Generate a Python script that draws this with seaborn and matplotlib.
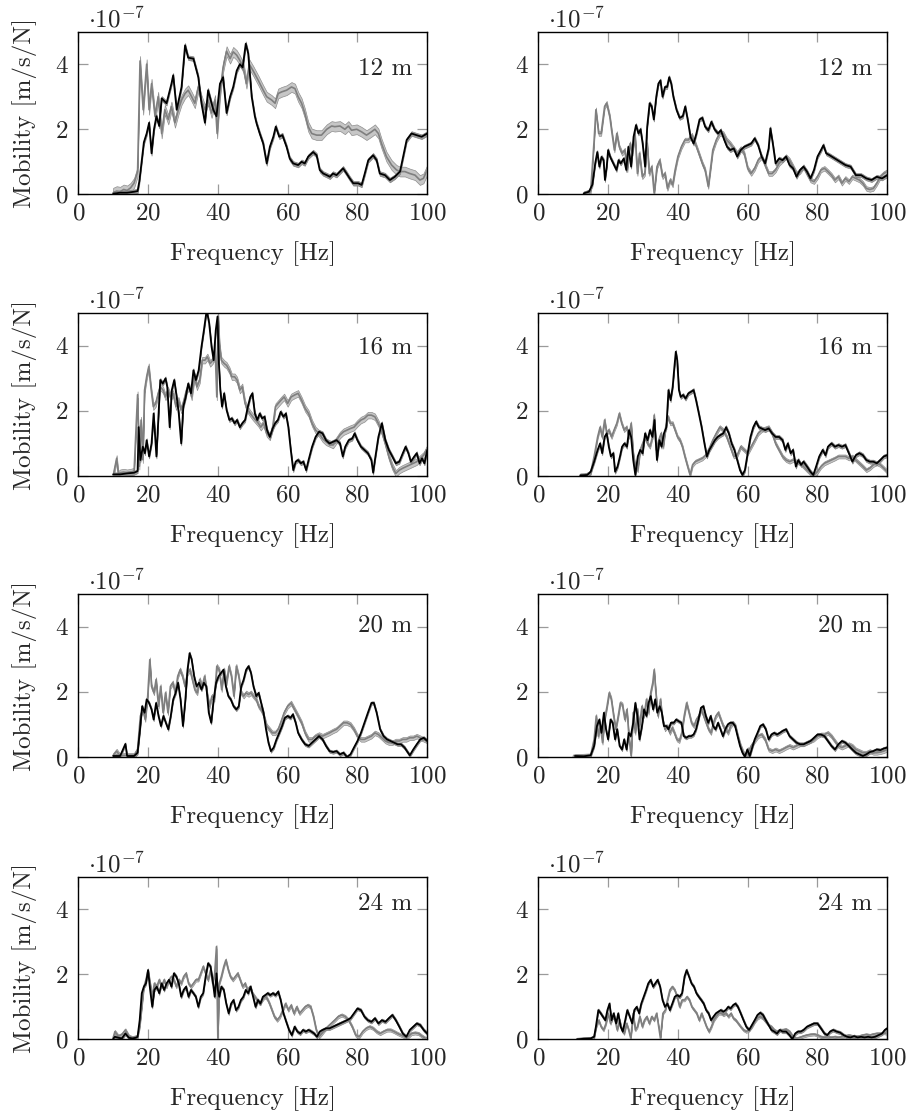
import matplotlib
matplotlib.use("Agg")
import matplotlib.pyplot as plt
import numpy as np
import pandas as pd
import seaborn as sns

# ---------------------------------------------------------------------------
# Measured mobility spectra (x: frequency in Hz, y: mobility in 1e-7 m/s/N)
# "a" = left column, "b" = right column; black = reference, gray = comparison
# ---------------------------------------------------------------------------
black_12a = [(10,0.02),(12,0.05),(14,0.05),(16,0.08),(17,0.1),(17.5,0.4),(18.1,0.95),(18.8,1.6),(19.6,1.87),
             (20.3,2.2),(21,1.26),(21.7,2.0),(22.4,2.4),(23.2,2.1),(23.9,2.95),(25.3,2.8),(26.7,3.4),(27.2,3.66),(28.2,2.6),
             (29.6,3.3),(30.6,4.58),(31.5,4.2),(33,4.17),(34.4,3.6),(35.3,2.8),(36.3,2.2),(37.2,3.2),(38.7,2.6),(39.6,2.4),
             (40.6,3.4),(41.5,3.6),(42.5,2.5),(43.5,3.0),(44.4,3.3),(45.4,3.8),(46.3,4.0),(47.1,3.9),(48,4.63),(48.7,4.33),
             (49.7,3.0),(50.6,2.4),(51.1,2.18),(52,1.87),(53,1.56),(54,0.95),(54.9,1.46),(55.9,1.77),(56.6,2.08),(57.6,1.77),
             (58.5,1.82),(59.7,1.46),(60.6,1.1),(61.6,0.95),(63,0.9),(64,1.0),(64.9,0.95),(65.9,1.16),(67.3,1.3),(68.3,1.2),
             (69.2,0.75),(70.2,0.64),(71.2,0.59),(72.1,0.54),(73,0.64),(74,0.59),(75,0.7),(75.9,0.8),(76.9,0.64),(77.8,0.49),
             (78.8,0.34),(80.2,0.34),(81.2,0.29),(82.1,0.64),(83.1,1.05),(84.5,1.2),(85.5,1.05),(86.4,0.64),(87.9,0.59),(89.3,0.44),
             (90.7,0.54),(92.2,0.7),(93.1,1.16),(94.1,1.67),(95.5,1.87),(96.9,1.82),(98.4,1.77),(100,1.87)]
gray_12a = [(10,0.05),(11,0.1),(12,0.08),(13,0.15),(14,0.12),(15,0.2),(16,0.35),(17,0.7),(17.7,4.1),
            (18.6,2.6),(19.6,4.0),(20.3,2.6),(21,3.4),(22,2.4),(22.9,3.0),(23.9,1.87),(24.8,2.6),(25.8,2.3),(26.7,2.7),
            (27.7,2.2),(28.7,2.6),(29.6,2.9),(30.6,3.1),(31.5,3.2),(32.5,3.0),(33.4,2.8),(34.4,3.3),(35.3,2.9),(36.3,2.6),
            (37.2,2.9),(38.2,2.5),(39.2,2.9),(39.8,1.87),(40.6,3.1),(41.5,3.9),(42.5,4.4),(43.5,4.17),(44.4,4.38),(45.4,4.28),
            (46.3,4.12),(47.3,3.9),(48.2,3.4),(49,4.0),(50.1,3.8),(51.6,3.5),(53,3.2),(54,3.0),(55.4,2.9),(56.4,2.8),
            (57.3,3.1),(58.3,3.15),(59.7,3.2),(61.1,3.3),(62.1,3.25),(63,3.0),(64,2.8),(64.9,2.5),(65.9,2.08),(66.9,1.87),
            (68.3,1.82),(69.7,1.82),(71.2,2.0),(72.6,2.1),(73.5,2.08),(75,2.1),(76.4,2.0),(77.4,2.1),(78.3,1.97),(79.8,2.0),
            (81.2,1.92),(82.6,1.82),(84,1.92),(85,2.0),(86,1.87),(86.9,1.56),(88.3,1.16),(89.8,0.9),(91.2,0.75),(92.2,0.7),
            (93.6,0.7),(95,0.64),(96.5,0.59),(97.9,0.44),(98.9,0.49),(100,0.75)]

black_12b = [(13,0.03),(14.5,0.08),(15.5,0.3),(16.3,0.95),(16.9,1.3),(17.5,0.85),(18.1,1.15),(18.7,1.05),(19.1,0.44),
             (19.6,0.85),(20,1.36),(20.6,1.15),(21.5,0.95),(22.4,0.75),(23,1.05),(23.6,0.95),(24.5,1.1),(25.2,0.75),(25.8,1.46),
             (26.6,0.85),(27.3,1.77),(28,2.13),(28.7,1.87),(29.3,2.0),(29.9,1.56),(30.6,0.85),(31.2,2.08),(31.9,2.8),(32.5,2.7),
             (33.1,2.3),(33.8,3.0),(34.4,3.4),(35,3.5),(35.6,3.0),(36.3,3.3),(36.9,3.3),(37.5,3.6),(38.1,3.4),(38.7,3.0),
             (39.6,2.6),(40.5,2.35),(41.4,2.4),(42.1,2.7),(42.8,2.3),(43.6,1.77),(44.5,1.56),(45.3,1.87),(46.2,2.3),(47,2.35),
             (47.8,2.08),(48.7,1.97),(49.6,2.23),(50.5,2.0),(51.5,1.87),(52.3,1.97),(53.3,1.67),(54.1,1.46),(55,1.36),(56,1.41),
             (57,1.16),(58,1.36),(59,1.46),(60,1.51),(61,1.56),(62,1.72),(63,1.51),(64,1.16),(65,0.95),(66,1.41),
             (66.5,2.03),(67.2,1.56),(68,0.95),(69,1.1),(70,1.05),(71,1.16),(72,0.9),(73,0.8),(74,0.54),(75,0.75),
             (76,0.85),(77,0.7),(78,0.49),(79,0.75),(80,1.16),(81,1.36),(81.7,1.51),(82.5,1.26),(83.5,1.2),(85,1.1),
             (86.5,1.0),(88,0.9),(89.5,0.85),(91,0.59),(92.5,0.59),(94,0.49),(95.5,0.44),(97,0.54),(98.5,0.49),(100,0.59)]
gray_12b = [(13,0),(15,0.1),(16,1.67),(16.5,2.6),(17.3,1.87),(18,1.87),(19,2.7),(19.6,2.8),(20.5,2.38),
            (21,1.97),(21.8,1.36),(22.5,1.87),(23.2,1.46),(24,1.26),(24.8,1.36),(25.5,0.75),(26.3,1.56),(27,1.26),(27.7,1.87),
            (28.4,0.64),(29,1.26),(29.8,0.54),(30.5,0.64),(31.2,1.56),(31.8,0.64),(32.5,0.85),(33.2,0.03),(34,0.85),(34.8,1.05),
            (35.6,0.54),(36.3,0.64),(37,0.18),(37.8,0.44),(38.5,0.29),(39.2,0.75),(40,1.16),(41,1.46),(42,1.67),(43,1.67),
            (44,1.82),(45,1.56),(46,1.26),(47,0.95),(47.8,0.75),(48.7,0.24),(49.3,0.75),(50,1.36),(51,1.67),(52,1.87),
            (53,1.87),(54,1.67),(55,1.56),(56,1.41),(57,1.26),(58,1.41),(59,1.26),(60,0.8),(61,0.64),(62,0.8),
            (63,1.05),(64,1.16),(65,0.9),(66,0.64),(67,0.64),(68,0.75),(69,0.95),(70,1.05),(71,1.16),(72,1.05),
            (73,0.85),(74,0.64),(75,0.7),(76,0.85),(77,0.64),(78,0.44),(79,0.39),(80,0.54),(81,0.75),(82,0.8),
            (83,0.7),(84,0.59),(85,0.44),(86,0.54),(87,0.34),(88,0.49),(89,0.39),(90,0.54),(91,0.49),(92,0.44),
            (93,0.34),(94,0.18),(95,0.15),(96,0.18),(97,0.34),(98,0.54),(99,0.64),(100,0.7)]

black_16a = [(10,0.05),(12,0.05),(14,0.08),(16,0.1),(17,0.15),(17.3,1.5),(17.8,0.49),(18.5,0.9),(19.1,0.7),
             (19.6,1.1),(20.3,0.6),(21,1.0),(21.6,1.92),(22.4,0.6),(23.5,2.95),(24.2,2.84),(25,3.0),(25.5,2.74),(26.2,1.5),
             (26.8,2.64),(27.5,2.95),(28.2,2.43),(28.8,1.92),(29.5,1.0),(30.1,2.13),(30.8,2.43),(31.5,2.84),(32.3,2.54),(33,3.25),
             (33.7,2.95),(34.5,3.25),(35.3,3.97),(36,4.48),(36.8,5.1),(37.5,4.7),(38.2,3.97),(38.8,3.56),(39.4,4.48),(39.9,4.9),
             (40.3,3.46),(40.7,2.64),(41.2,2.13),(41.8,2.54),(42.5,2.03),(43.3,1.72),(44,1.77),(44.8,1.62),(45.5,1.72),(46.3,1.5),
             (47,1.62),(47.8,1.72),(48.6,2.13),(49.3,2.43),(49.9,2.54),(50.6,1.92),(51.3,1.72),(52,1.92),(52.7,1.77),(53.4,1.82),
             (54.1,1.41),(54.9,1.2),(55.7,1.46),(56.4,1.62),(57.2,1.72),(58,1.97),(58.8,1.82),(59.5,1.92),(60.2,1.5),(60.9,0.8),
             (61.6,0.18),(62.3,0.44),(63,0.49),(63.8,0.39),(64.5,0.44),(65.3,0.18),(66,0.49),(67,0.9),(68,1.2),(69,1.36),
             (70,1.31),(71,1.1),(72,1.0),(73,1.05),(74,1.1),(75,1.0),(75.8,0.6),(76.5,0.9),(77.5,1.1),(78.5,1.15),
             (79.2,1.31),(80,1.1),(81,0.9),(82,0.8),(83,0.7),(84,0.49),(84.5,0.1),(85,0.49),(86,1.2),(87,1.62),
             (88,1.1),(89,0.8),(90,0.6),(91,0.39),(92,0.44),(93,0.7),(93.8,0.9),(94.6,0.7),(95.3,0.44),(96.3,0.6),
             (97,0.7),(97.8,0.39),(98.5,0.54),(99.2,0.39),(100,0.8)]
gray_16a = [(10,0),(11,0.54),(11.5,0.05),(12,0.1),(13,0.12),(14,0.1),(15,0.12),(16,0.15),(17,2.5),
            (17.5,0.3),(18,1.72),(18.5,0.5),(19,2.64),(19.6,3.05),(20.2,3.36),(20.8,2.74),(21.5,2.13),(22.2,2.23),(22.9,2.54),
            (23.5,2.74),(24.3,2.64),(25,2.43),(25.7,2.64),(26.5,2.43),(27.2,2.54),(28,2.13),(28.7,2.33),(29.5,2.03),(30.3,2.33),
            (31,2.64),(31.8,2.74),(32.5,2.43),(33.3,3.05),(34,2.74),(34.8,2.95),(35.5,3.56),(36.3,3.56),(37,3.66),(37.8,3.46),
            (38.6,3.56),(39.2,3.97),(39.7,2.43),(40.1,4.9),(40.5,3.97),(41,3.56),(41.8,3.46),(42.5,3.4),(43.3,3.25),(44,3.05),
            (44.8,3.05),(45.5,2.95),(46.3,2.64),(47,2.74),(47.8,2.23),(48.6,2.03),(49.3,1.92),(50,1.82),(50.8,1.72),(51.6,1.62),
            (52.3,1.5),(53.1,1.62),(54,1.31),(54.9,1.2),(55.7,1.5),(56.5,2.13),(57.3,2.23),(58.1,2.33),(59,2.43),(60,2.23),
            (61,2.43),(62,2.49),(63,2.54),(64,2.33),(65,2.08),(66,1.92),(67,1.62),(68,1.41),(69,1.31),(70,1.15),
            (71,1.05),(72,1.0),(73,0.95),(74,1.1),(75,1.26),(76,1.36),(77,1.41),(78,1.46),(79,1.5),(80,1.62),
            (81,1.72),(82,1.77),(83,1.87),(84,1.87),(85,1.82),(86,1.62),(87,1.36),(88,1.0),(89,0.6),(90,0.29),
            (91,0.08),(92,0.18),(93,0.24),(94,0.29),(95,0.34),(96,0.39),(97,0.44),(98,0.54),(99,0.64),(100,0.85)]

black_16b = [(12,0.02),(14,0.03),(15,0.13),(16,0.44),(17,0.8),(17.7,1.0),(18.3,0.7),(19,1.2),(19.6,1.31),
             (20.2,0.9),(20.8,0.6),(21.5,0.7),(22,0.13),(22.7,0.29),(23.4,0.6),(24,0.9),(24.7,1.0),(25.4,0.9),(26,1.41),
             (26.6,1.2),(27.2,0.49),(27.8,0.03),(28.5,0.6),(29.2,0.8),(29.9,0.7),(30.6,1.31),(31.3,1.1),(32,1.41),(32.7,1.2),
             (33.3,1.72),(34,0.49),(34.7,1.1),(35.3,0.9),(36,1.31),(36.7,1.5),(37.3,2.64),(37.9,2.33),(38.5,2.74),(39,3.36),
             (39.4,3.82),(39.8,3.56),(40.3,2.64),(40.8,2.43),(41.5,2.49),(42.2,2.38),(43,2.54),(43.8,2.59),(44.5,2.64),(45.2,2.33),
             (46,1.92),(46.8,1.5),(47.6,1.0),(48.3,0.6),(49,0.8),(49.8,0.95),(50.6,1.1),(51.4,1.2),(52.2,1.26),(53,1.31),
             (53.8,1.5),(54.6,1.31),(55.4,1.0),(56.2,0.8),(57,0.49),(57.8,0.18),(58.5,0.03),(59.2,0.18),(60,0.7),(60.8,1.2),
             (61.6,1.5),(62.4,1.67),(63.2,1.5),(64,1.46),(65,1.41),(66,1.46),(67,1.31),(68,1.2),(69,1.2),(70,1.1),
             (70.8,0.8),(71.5,1.0),(72.3,0.7),(73,0.8),(73.8,0.29),(74.5,0.49),(75.3,0.34),(76,0.44),(77,0.29),(78,0.13),
             (78.8,0.03),(79.6,0.29),(80.5,0.6),(81.5,0.8),(82.3,0.64),(83,0.9),(84,1.0),(85,0.9),(86,0.95),(87,0.9),
             (88,0.95),(89,0.7),(90,0.44),(91,0.64),(92,0.7),(93,0.64),(94,0.49),(95,0.44),(96,0.44),(97,0.39),
             (98,0.49),(99,0.6),(100,0.64)]
gray_16b = [(13,0),(15,0.1),(16,0.6),(17,1.2),(17.7,1.5),(18.3,1.2),(19,1.72),(19.6,1.31),(20.2,1.41),
            (21,1.2),(21.7,1.41),(22.5,1.62),(23.2,1.92),(23.9,1.62),(24.6,1.41),(25.3,1.5),(26,1.2),(26.6,1.62),(27.2,0.7),
            (27.8,0.29),(28.5,0.18),(29.2,0.8),(29.9,1.0),(30.6,1.2),(31.3,1.0),(32,0.9),(32.7,1.2),(33.2,1.87),(33.8,0.8),
            (34.5,1.1),(35.2,1.31),(35.8,0.9),(36.5,1.5),(37.2,1.82),(37.8,1.62),(38.5,1.62),(39.2,1.41),(39.9,1.2),(40.6,1.1),
            (41.3,0.9),(42,0.6),(42.8,0.29),(43.5,0.03),(44.2,0.34),(45,0.44),(46,0.49),(47,0.54),(48,0.64),(49,0.85),
            (50,1.1),(51,1.31),(52,1.5),(53,1.41),(54,1.2),(55,0.9),(56,0.6),(57,0.64),(58,0.9),(59,0.8),
            (60,0.7),(61,0.9),(62,1.1),(63,1.31),(64,1.41),(65,1.46),(66,1.5),(67,1.31),(68,1.0),(69,0.8),
            (70,0.6),(71,0.49),(72,0.44),(73,0.49),(74,0.44),(75,0.39),(76,0.29),(77,0.18),(78,0.08),(79,0.03),
            (80,0.13),(81,0.29),(82,0.39),(83,0.44),(84,0.49),(85,0.54),(86,0.6),(87,0.6),(88,0.6),(89,0.54),
            (90,0.6),(91,0.49),(92,0.39),(93,0.29),(94,0.18),(95,0.24),(96,0.34),(97,0.39),(98,0.34),(99,0.24),(100,0.13)]

black_20a = [(10,0.03),(12,0.03),(13.5,0.4),(14,0.03),(16,0.03),(17,0.13),(17.7,0.85),(18.3,1.56),(19,1.36),
             (19.6,1.77),(20.3,1.66),(21,1.46),(21.6,1.15),(22.3,1.66),(23,1.26),(23.7,0.95),(24.4,1.26),(25.1,1.05),(25.8,0.85),
             (26.5,1.26),(27.2,1.77),(27.9,1.97),(28.6,2.28),(29.3,1.77),(30,0.95),(30.7,1.77),(31.3,2.68),(31.9,3.19),(32.5,2.99),
             (33.2,2.48),(33.9,2.17),(34.6,2.28),(35.3,2.07),(36,2.28),(36.7,2.17),(37.4,1.36),(38.1,1.05),(38.8,1.77),(39.5,2.28),
             (40.2,2.48),(40.9,2.58),(41.6,2.68),(42.3,2.17),(43,1.87),(43.7,1.77),(44.5,1.56),(45.3,1.46),(46,1.56),(46.7,2.17),
             (47.4,2.38),(48.1,2.68),(48.8,2.79),(49.5,2.58),(50.2,2.17),(51,1.87),(51.7,1.97),(52.4,1.66),(53.1,1.36),(53.8,0.85),
             (54.5,0.44),(55.2,0.18),(56,0.29),(56.8,0.54),(57.6,0.74),(58.4,0.95),(59.2,1.2),(60,1.26),(60.8,1.2),(61.5,1.31),
             (62.3,1.05),(63,0.74),(64,0.54),(65,0.39),(66,0.34),(67,0.44),(68,0.54),(69,0.64),(70,0.54),(71,0.34),
             (72,0.18),(73,0.15),(74,0.18),(75,0.08),(76,0.13),(77,0.0),(78,0.08),(79,0.29),(80,0.49),(81,0.74),
             (82,1.05),(83,1.36),(84,1.66),(84.7,1.66),(85.5,1.36),(86.5,0.85),(87.5,0.64),(88.5,0.54),(89.5,0.49),(90.5,0.44),
             (91.5,0.39),(92.5,0.39),(93.5,0.29),(94.5,0.13),(95,0.05),(96,0.23),(97,0.39),(98,0.54),(99,0.59),(100,0.49)]
gray_20a = [(10,0.05),(11,0.18),(12,0.03),(13,0.05),(14,0.05),(16,0.05),(17,0.23),(17.8,1.26),(18.5,1.46),
            (19.2,1.15),(19.9,1.87),(20.5,2.99),(21,2.17),(21.7,1.97),(22.3,2.38),(23,1.56),(23.6,2.17),(24.3,1.36),(25,1.97),
            (25.7,1.36),(26.4,2.17),(27.1,2.28),(27.8,1.97),(28.5,2.48),(29.2,2.68),(29.9,2.48),(30.6,2.17),(31.3,2.58),(32,2.68),
            (32.7,2.38),(33.4,2.07),(34.1,1.97),(34.8,2.38),(35.5,2.17),(36.2,2.48),(36.9,1.97),(37.6,1.56),(38.3,1.87),(39,1.77),
            (39.7,2.79),(40.4,2.68),(41.1,2.07),(41.8,2.68),(42.5,2.28),(43.2,2.79),(43.9,2.48),(44.6,1.87),(45.3,2.79),(46,2.48),
            (46.7,1.97),(47.4,1.87),(48.1,1.97),(48.8,1.92),(49.5,1.97),(50.2,1.87),(51,1.77),(51.7,1.56),(52.4,1.46),(53.2,1.26),
            (54,0.95),(54.8,0.85),(55.6,0.74),(56.5,0.74),(57.3,0.85),(58,1.05),(59,1.36),(60,1.56),(61,1.66),(62,1.46),
            (63,1.26),(64,1.05),(65,0.74),(66,0.54),(67,0.54),(68,0.64),(69,0.69),(70,0.64),(71,0.69),(72,0.74),
            (73,0.8),(74,0.85),(75,0.95),(76,1.05),(77,1.05),(78,1.0),(79,0.85),(80,0.64),(81,0.54),(82,0.54),
            (83,0.59),(84,0.64),(85,0.74),(86,0.69),(87,0.59),(88,0.49),(89,0.44),(90,0.44),(91,0.49),(92,0.49),
            (93,0.54),(94,0.54),(95,0.59),(96,0.59),(97,0.64),(98,0.59),(99,0.54),(100,0.49)]

black_20b = [(10.5,0.03),(13,0.02),(15,0.05),(16,0.34),(16.8,0.95),(17.5,1.15),(18.1,0.74),(18.8,1.36),(19.4,0.85),
             (20,0.54),(20.7,1.15),(21.3,1.05),(22,0.54),(22.6,0.85),(23.3,0.34),(24,0.23),(24.6,0.54),(25.3,0.23),(25.9,0.74),
             (26.5,0.64),(27.2,1.05),(27.8,1.66),(28.4,1.26),(29,0.54),(29.7,0.95),(30.3,1.46),(31,1.26),(31.6,1.66),(32.2,1.87),
             (32.9,1.46),(33.5,1.77),(34.1,1.36),(34.8,1.56),(35.4,1.36),(36,0.95),(36.7,0.95),(37.3,0.85),(38,1.05),(38.8,1.05),
             (39.5,1.15),(40.2,1.1),(41,1.05),(41.7,0.64),(42.4,0.59),(43.1,0.64),(43.8,0.64),(44.5,0.69),(45.2,0.85),(45.9,1.15),
             (46.6,1.51),(47.3,1.56),(48,1.26),(48.7,1.05),(49.4,1.26),(50.1,0.95),(50.8,0.85),(51.5,1.05),(52.2,0.85),(52.9,0.64),
             (53.6,0.85),(54.3,1.0),(55,1.05),(55.7,1.05),(56.4,0.95),(57.1,0.64),(57.8,0.34),(58.5,0.13),(59.2,0.01),(59.9,0.23),
             (60.6,0.03),(61.3,0.29),(62,0.54),(62.8,0.74),(63.6,0.95),(64.4,1.0),(65.2,0.85),(66,0.54),(66.8,0.69),(67.6,0.74),
             (68.4,0.69),(69.2,0.74),(70,0.8),(71,0.85),(72,0.64),(73,0.54),(74,0.44),(75,0.39),(76,0.39),(77,0.44),
             (78,0.49),(79,0.59),(80,0.69),(81,0.69),(82,0.64),(83,0.49),(84,0.34),(85,0.23),(86,0.39),(87,0.49),
             (88,0.44),(89,0.34),(90,0.23),(91,0.13),(92,0.08),(93,0.03),(94,0.08),(95,0.15),(96,0.18),(97,0.23),
             (98,0.21),(99,0.26),(100,0.29)]
gray_20b = [(10,0.02),(15,0.05),(16,0.54),(16.6,1.26),(17.2,0.64),(17.8,0.95),(18.4,0.44),(19,1.15),(19.7,1.56),
            (20.3,1.97),(20.9,1.79),(21.6,1.26),(22.2,0.85),(22.9,1.26),(23.5,1.66),(24.1,1.61),(24.8,1.15),(25.4,1.46),(26,0.6),
            (26.6,0.03),(27.2,1.36),(27.8,0.74),(28.4,1.46),(29,0.95),(29.7,1.56),(30.3,1.26),(31,1.77),(31.6,1.36),(32.2,1.97),
            (32.8,2.28),(33.2,2.68),(33.7,1.97),(34.3,1.26),(35,1.77),(35.6,1.15),(36.3,0.85),(37,0.95),(37.7,0.74),(38.4,0.9),
            (39,0.74),(39.7,0.54),(40.4,0.49),(41.1,0.74),(41.8,1.26),(42.5,1.66),(43.2,1.36),(43.9,1.05),(44.6,0.95),(45.3,1.15),
            (46,1.26),(46.7,1.46),(47.4,1.26),(48.1,1.05),(48.8,0.85),(49.5,0.74),(50.2,1.05),(50.9,1.26),(51.6,1.36),(52.3,1.15),
            (53,0.95),(53.7,0.85),(54.4,0.74),(55.1,0.95),(55.8,1.05),(56.5,0.95),(57.2,0.64),(58,0.34),(58.8,0.13),(59.5,0.03),
            (60.3,0.18),(61,0.34),(62,0.49),(63,0.64),(64,0.69),(65,0.54),(66,0.23),(67,0.18),(68,0.23),(69,0.18),
            (70,0.23),(71,0.29),(72,0.34),(73,0.29),(74,0.34),(75,0.39),(76,0.39),(77,0.44),(78,0.49),(79,0.54),
            (80,0.64),(81,0.69),(82,0.69),(83,0.74),(84,0.64),(85,0.49),(86,0.34),(87,0.29),(88,0.34),(89,0.39),
            (90,0.34),(91,0.23),(92,0.18),(93,0.13),(94,0.13),(95,0.18),(96,0.13),(97,0.13),(98,0.15),(99,0.18),(100,0.23)]

black_24a = [(10,0.02),(10.5,0.08),(11.5,0.05),(12.5,0.03),(13.5,0.18),(14.5,0.05),(15.5,0.03),(16.5,0.05),(17,0.08),
             (17.6,0.59),(18.2,1.42),(18.8,1.62),(19.4,1.72),(20,2.13),(20.6,1.52),(21.2,1.0),(21.8,1.52),(22.5,1.62),(23.2,1.42),
             (23.9,1.72),(24.6,1.52),(25.3,1.72),(26,1.83),(26.7,1.62),(27.4,2.03),(28.1,1.93),(28.8,1.72),(29.5,1.31),(30.2,1.52),
             (30.9,1.62),(31.6,1.31),(32.3,1.52),(33,1.42),(33.7,1.31),(34.4,1.0),(35.1,1.31),(35.8,1.42),(36.5,1.93),(37.2,2.34),
             (37.9,2.24),(38.5,1.83),(39.1,1.31),(39.6,2.03),(40,1.52),(40.4,1.31),(41,1.62),(41.7,1.52),(42.4,1.1),(43.1,0.8),
             (43.8,1.1),(44.5,1.21),(45.2,0.9),(45.9,1.0),(46.6,1.21),(47.3,1.31),(48,1.52),(48.7,1.42),(49.4,1.62),(50.1,1.31),
             (50.8,1.0),(51.5,1.21),(52.2,1.1),(52.9,1.31),(53.6,1.36),(54.3,1.42),(55,1.36),(55.8,1.42),(56.5,1.36),(57.3,1.47),
             (58,1.21),(58.8,0.8),(59.6,0.54),(60.4,0.29),(61.2,0.13),(62,0.39),(62.8,0.24),(63.6,0.18),(64.4,0.29),(65.2,0.24),
             (66,0.29),(66.8,0.24),(67.6,0.18),(68.4,0.08),(69.2,0.24),(70,0.29),(71,0.34),(72,0.34),(73,0.39),(74,0.44),
             (75,0.49),(76,0.54),(77,0.59),(78,0.65),(79,0.8),(80,0.95),(81,0.9),(82,0.7),(83,0.59),(84,0.54),
             (85,0.65),(86,0.49),(87,0.59),(88,0.54),(89,0.65),(90,0.75),(91,0.59),(92,0.39),(93,0.18),(94,0.08),
             (95,0.29),(96,0.39),(97,0.49),(98,0.44),(99,0.29),(100,0.18)]
gray_24a = [(10,0.05),(10.5,0.24),(11.5,0.1),(12.5,0.15),(13.5,0.29),(14.5,0.1),(15.5,0.05),(16.5,0.08),(17,0.1),
            (17.6,0.39),(18.2,1.0),(18.8,1.62),(19.4,1.83),(20,2.13),(20.6,1.72),(21.2,1.31),(21.8,1.72),(22.5,1.62),(23.2,1.83),
            (23.9,1.62),(24.6,1.83),(25.3,1.62),(26,1.83),(26.7,1.93),(27.4,1.83),(28.1,1.62),(28.8,1.83),(29.5,1.72),(30.2,1.93),
            (30.9,2.03),(31.6,1.72),(32.3,1.62),(33,1.72),(33.7,1.83),(34.4,1.83),(35.1,2.03),(35.8,2.24),(36.5,2.03),(37.2,1.83),
            (37.9,2.13),(38.5,1.72),(39.1,2.03),(39.6,2.85),(40,0.0),(40.4,1.72),(41,1.93),(41.7,2.24),(42.3,2.44),(43,2.13),
            (43.6,1.93),(44.3,1.83),(45,1.93),(45.7,2.03),(46.4,1.83),(47.1,1.62),(47.8,1.72),(48.5,1.52),(49.2,1.62),(49.9,1.42),
            (50.6,1.31),(51.3,1.21),(52,1.1),(52.7,1.21),(53.4,1.31),(54.1,1.26),(54.8,1.1),(55.5,0.9),(56.2,0.7),(57,0.59),
            (57.8,0.7),(58.6,0.9),(59.4,1.1),(60.2,0.9),(61,1.05),(61.8,0.8),(62.6,1.0),(63.4,0.8),(64.2,0.9),(65,1.0),
            (65.8,1.05),(66.6,1.0),(67.4,0.7),(68.2,0.29),(69,0.08),(69.8,0.18),(70.6,0.29),(71.5,0.39),(72.5,0.49),(73.5,0.59),
            (74.5,0.7),(75.5,0.75),(76.5,0.7),(77.5,0.59),(78.5,0.39),(79.5,0.13),(80.5,0.08),(81.5,0.24),(82.5,0.34),(83.5,0.39),
            (84.5,0.34),(85.5,0.24),(86.5,0.18),(87.5,0.24),(88.5,0.29),(89.5,0.29),(90.5,0.24),(91.5,0.18),(92.5,0.13),(93.5,0.08),
            (94.5,0.08),(95.5,0.18),(96.5,0.2),(97.5,0.18),(98.5,0.1),(99.5,0.03),(100,0.01)]

black_24b = [(11,0),(13,0.02),(15,0.03),(16,0.08),(16.5,0.39),(17.2,0.9),(17.9,0.8),(18.5,0.7),(19.2,0.59),
             (19.8,0.9),(20.4,1.1),(21,0.59),(21.6,0.8),(22.3,0.49),(22.9,0.8),(23.6,0.39),(24.2,0.24),(24.9,0.59),(25.5,0.9),
             (26.2,0.7),(26.9,0.49),(27.5,0.9),(28.2,1.0),(28.9,0.8),(29.5,1.1),(30.2,1.31),(30.9,1.52),(31.5,1.72),(32.2,1.83),
             (32.9,1.62),(33.5,1.72),(34.2,1.83),(34.9,1.62),(35.6,1.21),(36.3,1.0),(37,1.1),(37.7,0.9),(38.4,1.1),(39.1,1.31),
             (39.8,1.36),(40.5,1.31),(41.2,1.42),(41.9,1.93),(42.5,2.13),(43.2,1.93),(43.9,1.72),(44.6,1.62),(45.3,1.42),(46,1.31),
             (46.7,1.21),(47.4,1.1),(48.1,0.9),(48.8,0.8),(49.5,0.59),(50.2,0.7),(50.9,0.8),(51.6,0.85),(52.3,0.9),(53,0.85),
             (53.7,0.9),(54.4,1.0),(55.1,0.95),(55.8,1.05),(56.5,1.1),(57.2,1.0),(58,0.8),(58.8,0.59),(59.6,0.39),(60.4,0.29),
             (61.2,0.44),(62,0.59),(62.8,0.75),(63.6,0.82),(64.4,0.75),(65.2,0.59),(66,0.44),(66.8,0.29),(67.6,0.24),(68.4,0.18),
             (69.2,0.29),(70,0.24),(71,0.24),(72,0.13),(72.8,0.01),(73.6,0.18),(74.4,0.24),(75.2,0.24),(76,0.29),(77,0.39),
             (78,0.44),(79,0.49),(80,0.49),(81,0.34),(82,0.18),(82.8,0.13),(83.6,0.24),(84.5,0.29),(85.5,0.24),(86.5,0.21),
             (87.5,0.13),(88.5,0.08),(89.5,0.06),(90.5,0.1),(91.5,0.06),(92.5,0.08),(93.5,0.06),(94.5,0.08),(95.5,0.06),(96.5,0.08),
             (97.5,0.13),(98.5,0.18),(99.3,0.29),(100,0.34)]
gray_24b = [(15,0.02),(16,0.08),(16.6,0.39),(17.3,0.59),(18,0.39),(18.7,0.29),(19.4,0.49),(20,0.8),(20.7,0.49),
            (21.3,0.7),(22,0.59),(22.6,0.29),(23.3,0.59),(24,0.29),(24.6,0.18),(25.3,0.49),(25.9,0.29),(26.5,0.03),(27.2,0.8),
            (27.8,0.29),(28.4,0.39),(29.1,0.7),(29.8,0.39),(30.4,0.59),(31.1,0.7),(31.8,0.49),(32.5,0.7),(33.2,0.59),(33.9,0.8),
            (34.5,0.39),(35,0.03),(35.7,0.8),(36.4,0.9),(37,1.21),(37.7,1.52),(38.4,1.62),(39.1,1.52),(39.8,1.31),(40.5,1.0),
            (41.2,1.21),(41.9,1.21),(42.6,1.31),(43.3,1.21),(44,1.0),(44.7,0.9),(45.4,0.8),(46.1,0.59),(46.8,0.8),(47.5,0.59),
            (48.2,0.39),(48.9,0.24),(49.6,0.39),(50.3,0.59),(51,0.7),(51.7,0.8),(52.4,0.8),(53.1,0.75),(53.8,0.8),(54.5,0.7),
            (55.2,0.8),(55.9,0.65),(56.6,0.59),(57.3,0.49),(58,0.39),(58.8,0.29),(59.6,0.24),(60.4,0.29),(61.2,0.39),(62,0.54),
            (62.8,0.65),(63.6,0.7),(64.4,0.65),(65.2,0.54),(66,0.44),(66.8,0.39),(67.6,0.29),(68.4,0.24),(69.2,0.29),(70,0.29),
            (71,0.31),(72,0.24),(73,0.08),(74,0.03),(75,0.06),(76,0.1),(77,0.13),(78,0.15),(79,0.16),(80,0.13),
            (81,0.08),(82,0.06),(83,0.08),(84,0.06),(85,0.08),(86,0.06),(87,0.08),(88,0.1),(89,0.13),(90,0.1),
            (91,0.08),(92,0.1),(93,0.13),(94,0.15),(95,0.13),(96,0.16),(97,0.18),(98,0.18),(99,0.2),(100,0.18)]

# panel grid: rows = source distance, columns = receiver side
distance_labels = ["12 m", "16 m", "20 m", "24 m"]
black_curves = [[black_12a, black_12b], [black_16a, black_16b], [black_20a, black_20b], [black_24a, black_24b]]
gray_curves = [[gray_12a, gray_12b], [gray_16a, gray_16b], [gray_20a, gray_20b], [gray_24a, gray_24b]]
# half width of the shaded uncertainty band around each curve
band_black = [[0.07, 0.06], [0.06, 0.06], [0.05, 0.05], [0.05, 0.05]]
band_gray = [[0.15, 0.07], [0.10, 0.06], [0.07, 0.06], [0.05, 0.04]]

x_ticks = [0, 20, 40, 60, 80, 100]
y_ticks = [0, 2, 4]

# ---------------------------------------------------------------------------
sns.set_style("ticks")
plt.rcParams.update({
    "font.family": "serif",
    "font.serif": ["cmr10"],
    "mathtext.fontset": "cm",
    "axes.formatter.use_mathtext": True,
    "axes.unicode_minus": False,
    "axes.edgecolor": "black",
    "axes.linewidth": 1.0,
})

FS = 18
fig = plt.figure(figsize=(9.09, 11.15), dpi=100)
col_left = [0.0861, 0.5922]
row_bottom = [0.8257, 0.5731, 0.3211, 0.0678]
ax_w, ax_h = 0.3839, 0.1459
label_baseline = [3.66, 3.77, 3.85, 3.98]

for r in range(4):
    for c in range(2):
        ax = fig.add_axes([col_left[c], row_bottom[r], ax_w, ax_h])
        frames = []
        for name, pts in (("gray", gray_curves[r][c]), ("black", black_curves[r][c])):
            f, m = zip(*pts)
            frames.append(pd.DataFrame({"freq": f, "mobility": m, "series": name}))
        df = pd.concat(frames, ignore_index=True)

        styles = {
            "gray": dict(line="#7f7f7f", fill="#c6c6c6", edge="#8e8e8e", band=band_gray[r][c], lw=1.2),
            "black": dict(line="black", fill="#9a9a9a", edge="#808080", band=band_black[r][c], lw=1.3),
        }
        for name in ("gray", "black"):
            st = styles[name]
            sub = df[df["series"] == name]
            ax.fill_between(sub["freq"], sub["mobility"] - st["band"], sub["mobility"] + st["band"],
                            facecolor=st["fill"], edgecolor=st["edge"], linewidth=0.5, zorder=2)
            sns.lineplot(data=sub, x="freq", y="mobility", color=st["line"], lw=st["lw"],
                         estimator=None, sort=False, legend=False, ax=ax, zorder=3)

        ax.set_xlim(0, 100)
        ax.set_ylim(0, 5)
        ax.set_xticks(x_ticks)
        ax.set_yticks(y_ticks)
        ax.tick_params(direction="in", length=7.5, width=0.9, color="#9a9a9a",
                       top=True, right=True, labelsize=FS)
        ax.tick_params(axis="x", pad=6)
        ax.tick_params(axis="y", pad=7)
        for sp in ax.spines.values():
            sp.set_visible(True)
            sp.set_color("black")
            sp.set_linewidth(1.0)

        ax.set_xlabel("Frequency [Hz]", fontsize=FS, labelpad=12)
        if c == 0:
            ax.set_ylabel("Mobility [m/s/N]", fontsize=FS)
            ax.yaxis.set_label_coords(-0.118, 0.5)
        else:
            ax.set_ylabel("")

        ax.annotate(r"$\cdot 10^{-7}$", xy=(0, 1), xycoords="axes fraction",
                    xytext=(7, 3.5), textcoords="offset points",
                    fontsize=18, ha="left", va="baseline")
        ax.text(0.957, label_baseline[r] / 5.0, distance_labels[r], transform=ax.transAxes,
                ha="right", va="baseline", fontsize=FS, zorder=5)

fig.savefig("out.png", dpi=100)
